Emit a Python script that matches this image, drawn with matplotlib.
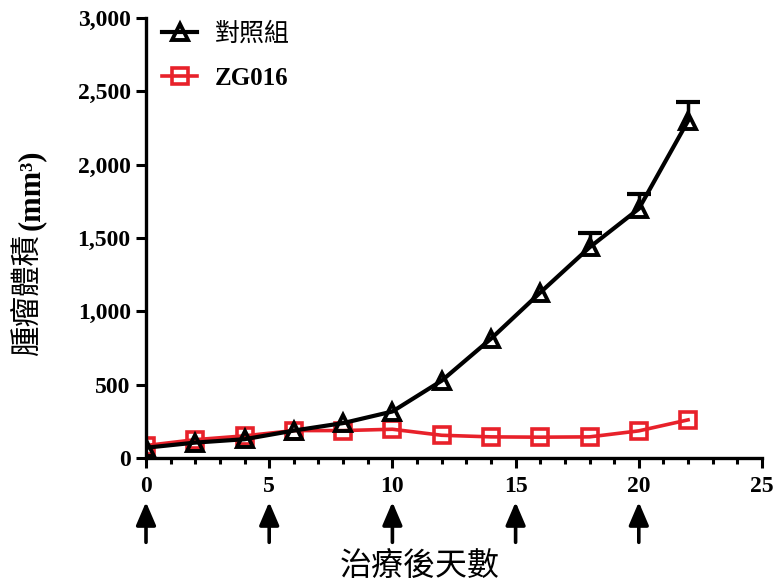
import numpy as np
import matplotlib.pyplot as plt
from matplotlib.ticker import FuncFormatter, MultipleLocator

# tumour volume (mm3) measured every two days after treatment start
days = [0, 2, 4, 6, 8, 10, 12, 14, 16, 18, 20, 22]
control = [70, 105, 128, 187, 238, 317, 527, 813, 1128, 1436, 1699, 2299]
control_err = [0, 0, 0, 0, 0, 0, 0, 0, 0, 96, 102, 130]
zg016 = [85, 125, 151, 187, 187, 196, 155, 144, 142, 144, 185, 260]
dose_days = [0, 5, 10, 15, 20]

cjk = 'Noto Sans CJK TC'
serif = 'Liberation Serif'
red = '#e8212a'

plt.rcParams['font.family'] = [serif, cjk]
plt.rcParams['font.weight'] = 'bold'

fig = plt.figure(figsize=(7.74, 5.83), dpi=100)
ax = fig.add_axes([146 / 774, 1 - 458 / 583, 616 / 774, 440 / 583])

# upper error bars only, where the SEM sticks out of the marker
x = np.array(days)
y = np.array(control)
e = np.array(control_err)
has_err = e > 0
ax.vlines(x[has_err], y[has_err], y[has_err] + e[has_err], color='black',
          lw=2.5, zorder=3)
ax.plot(x[has_err], y[has_err] + e[has_err], ls='none', marker='_', ms=17,
        mew=3, color='black', zorder=3)

h_ctrl, = ax.plot(days, control, color='black', lw=3, marker='^', ms=12,
                  mfc='none', mew=2.8, zorder=3)
h_zg, = ax.plot(days, zg016, color=red, lw=2.6, marker='s', ms=11,
                mfc='none', mew=2.6, zorder=2)

ax.set_xlim(0, 25)
ax.set_ylim(0, 3000)
ax.xaxis.set_major_locator(MultipleLocator(5))
ax.xaxis.set_minor_locator(MultipleLocator(1))
ax.yaxis.set_major_locator(MultipleLocator(500))
ax.yaxis.set_major_formatter(FuncFormatter(lambda v, p: f'{v:,.0f}'))

for side in ['top', 'right']:
    ax.spines[side].set_visible(False)
for side in ['left', 'bottom']:
    ax.spines[side].set_linewidth(2.4)

ax.tick_params(which='major', length=7, width=2.2, direction='out',
               labelsize=17)
ax.tick_params(which='minor', length=4.5, width=2.2, direction='out')
ax.tick_params(axis='x', pad=6)
ax.tick_params(axis='y', pad=4)

# dosing arrows under the x axis
for d in dose_days:
    ax.annotate('', xy=(d, -300), xytext=(d, -575), xycoords='data',
                annotation_clip=False,
                arrowprops=dict(arrowstyle='-|>,head_length=0.7,head_width=0.3',
                                mutation_scale=20, lw=2.6, color='black',
                                shrinkA=0, shrinkB=0))

fig.text(420 / 774, 1 - 566 / 583, '治療後天數', family=cjk,
         fontweight='normal', fontsize=23, ha='center', va='center')

# y label: CJK part in a light face, unit in bold serif
fig.text(27 / 774, 1 - 234 / 583, '腫瘤體積', family=cjk, fontweight='normal',
         fontsize=22, rotation=90, rotation_mode='anchor', ha='right',
         va='center')
fig.text(31 / 774, 1 - 230 / 583, '(mm³)', family=serif, fontweight='bold',
         fontsize=22, rotation=90, rotation_mode='anchor', ha='left',
         va='center')

leg = ax.legend([h_ctrl, h_zg], ['對照組', 'ZG016'], loc='upper left',
                bbox_to_anchor=(162 / 774, 1 - 21 / 583),
                bbox_transform=fig.transFigure, frameon=False, fontsize=18,
                handlelength=1.4, handletextpad=0.7, labelspacing=0.8,
                borderpad=0, borderaxespad=0)
texts = leg.get_texts()
texts[0].set_fontfamily(cjk)
texts[0].set_fontweight('normal')
texts[1].set_fontfamily(serif)
texts[1].set_fontweight('bold')

fig.savefig('out.png', dpi=100)
